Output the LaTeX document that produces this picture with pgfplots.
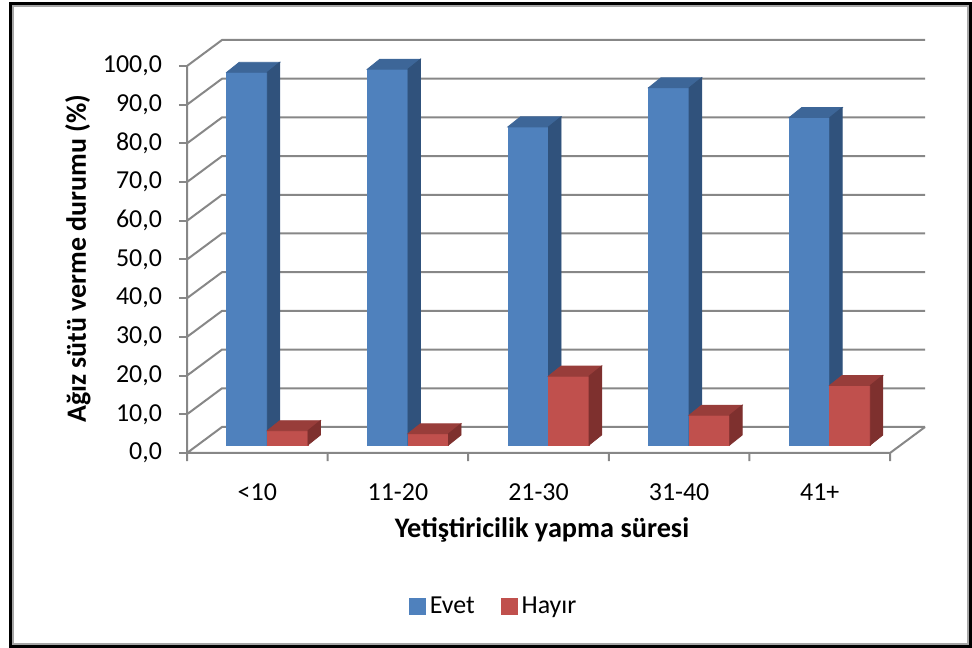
\documentclass[border=0pt]{standalone}
\usepackage{pgfplots}
\pgfplotsset{compat=1.18}
\usepackage{pgfplotstable}
\usepackage{fontspec}
\setmainfont{Carlito}
\definecolor{evetF}{HTML}{4F81BD}
\definecolor{evetT}{HTML}{3D6698}
\definecolor{evetS}{HTML}{30527C}
\definecolor{hayF}{HTML}{C0504D}
\definecolor{hayT}{HTML}{983D3A}
\definecolor{hayS}{HTML}{7E302E}
\definecolor{gridc}{HTML}{878787}

\pgfplotstableread{
x evet hayir
0 96.3 3.7
1 97.1 2.9
2 82.2 17.8
3 92.3 7.7
4 84.6 15.4
}\data

\pgfdeclareplotmark{evetbar}{%
  \pgfmathsetmacro\yb{4-\hv*1.935}%
  \pgfmathsetmacro\yc{\yb+5}%
  \fill[evetF] (-15.3bp,\yb bp) rectangle (5bp,4bp);
  \fill[evetT] (-15.3bp,4bp) -- (-9.05bp,9bp) -- (11.25bp,9bp) -- (5bp,4bp) -- cycle;
  \fill[evetS] (5bp,4bp) -- (11.25bp,9bp) -- (11.25bp,\yc bp) -- (5bp,\yb bp) -- cycle;
}
\pgfdeclareplotmark{hayirbar}{%
  \pgfmathsetmacro\yb{4-\hv*1.935}%
  \pgfmathsetmacro\yc{\yb+5}%
  \fill[hayF] (5bp,\yb bp) rectangle (25.3bp,4bp);
  \fill[hayT] (5bp,4bp) -- (11.25bp,9bp) -- (31.55bp,9bp) -- (25.3bp,4bp) -- cycle;
  \fill[hayS] (25.3bp,4bp) -- (31.55bp,9bp) -- (31.55bp,\yc bp) -- (25.3bp,\yb bp) -- cycle;
}

\begin{document}
\begin{tikzpicture}
\useasboundingbox (0,0) rectangle (486bp,324bp);
\draw[black, line width=1.5bp] (5.25bp,0.75bp) rectangle (485.25bp,322.25bp);
\draw[gray!70, line width=0.8bp] (6.6bp,2.1bp) rectangle (484bp,321bp);
\begin{axis}[
  at={(93.5bp,97.5bp)}, anchor=south west,
  x=70.3bp, y=1.935bp,
  xmin=-0.5, xmax=4.749, ymin=0, ymax=106.72,
  clip=false,
  axis line style={draw=none},
  font=\fontsize{13}{15}\selectfont,
  ytick={0,10,...,100},
  xtick={0,...,4},
  xticklabels={<10,11-20,21-30,31-40,41+},
  ytick pos=left, xtick pos=bottom,
  tick align=outside,
  major tick length=4bp,
  ytick style={gridc, line width=1bp},
  xtick style={draw=none},
  yticklabel style={/pgf/number format/fixed, /pgf/number format/fixed zerofill,
    /pgf/number format/precision=1, /pgf/number format/use comma,
    /pgf/number format/assume math mode=true, anchor=east, xshift=-5bp},
  xticklabel style={anchor=base, yshift=-19.5bp},
  xlabel={Yetiştiricilik yapma süresi},
  xlabel style={at={(axis description cs:0.481,-0.186)}, anchor=center, font=\fontsize{14.2}{16}\selectfont\bfseries},
  ylabel={Ağız sütü verme durumu (\%)},
  ylabel style={at={(axis description cs:-0.1477,0.47)}, anchor=center, font=\fontsize{14}{16}\selectfont\bfseries},
  legend style={draw=none, fill=none, at={(axis description cs:0.417,-0.372)}, anchor=center,
    font=\fontsize{13}{15}\selectfont, /tikz/every even column/.append style={column sep=11bp}},
  legend columns=2,
  legend image code/.code={\fill[#1] (0bp,-4bp) rectangle (8bp,4bp);},
]
% walls and floor
\addplot[gridc, line width=1bp, forget plot, unbounded coords=jump] coordinates {
 (-0.5,0) (-0.251,6.72) (4.749,6.72) (nan,nan)
 (-0.5,10) (-0.251,16.72) (4.749,16.72) (nan,nan)
 (-0.5,20) (-0.251,26.72) (4.749,26.72) (nan,nan)
 (-0.5,30) (-0.251,36.72) (4.749,36.72) (nan,nan)
 (-0.5,40) (-0.251,46.72) (4.749,46.72) (nan,nan)
 (-0.5,50) (-0.251,56.72) (4.749,56.72) (nan,nan)
 (-0.5,60) (-0.251,66.72) (4.749,66.72) (nan,nan)
 (-0.5,70) (-0.251,76.72) (4.749,76.72) (nan,nan)
 (-0.5,80) (-0.251,86.72) (4.749,86.72) (nan,nan)
 (-0.5,90) (-0.251,96.72) (4.749,96.72) (nan,nan)
 (-0.5,100) (-0.251,106.72) (4.749,106.72) (nan,nan)
 (-0.5,100) (-0.5,0) (4.5,0) (4.749,6.72) (nan,nan)
 (-0.5,0) (-0.5,-2.07) (nan,nan)
 (0.5,0) (0.5,-2.07) (nan,nan)
 (1.5,0) (1.5,-2.07) (nan,nan)
 (2.5,0) (2.5,-2.07) (nan,nan)
 (3.5,0) (3.5,-2.07) (nan,nan)
 (4.5,0) (4.5,-2.07)
};
\addplot[only marks, mark=evetbar, forget plot,
  visualization depends on={\thisrow{evet}\as\hv}] table[x=x, y=evet] {\data};
\addplot[only marks, mark=hayirbar, forget plot,
  visualization depends on={\thisrow{hayir}\as\hv}] table[x=x, y=hayir] {\data};
\addlegendimage{evetF}
\addlegendentry{Evet}
\addlegendimage{hayF}
\addlegendentry{Hayır}
\end{axis}
\end{tikzpicture}
\end{document}
